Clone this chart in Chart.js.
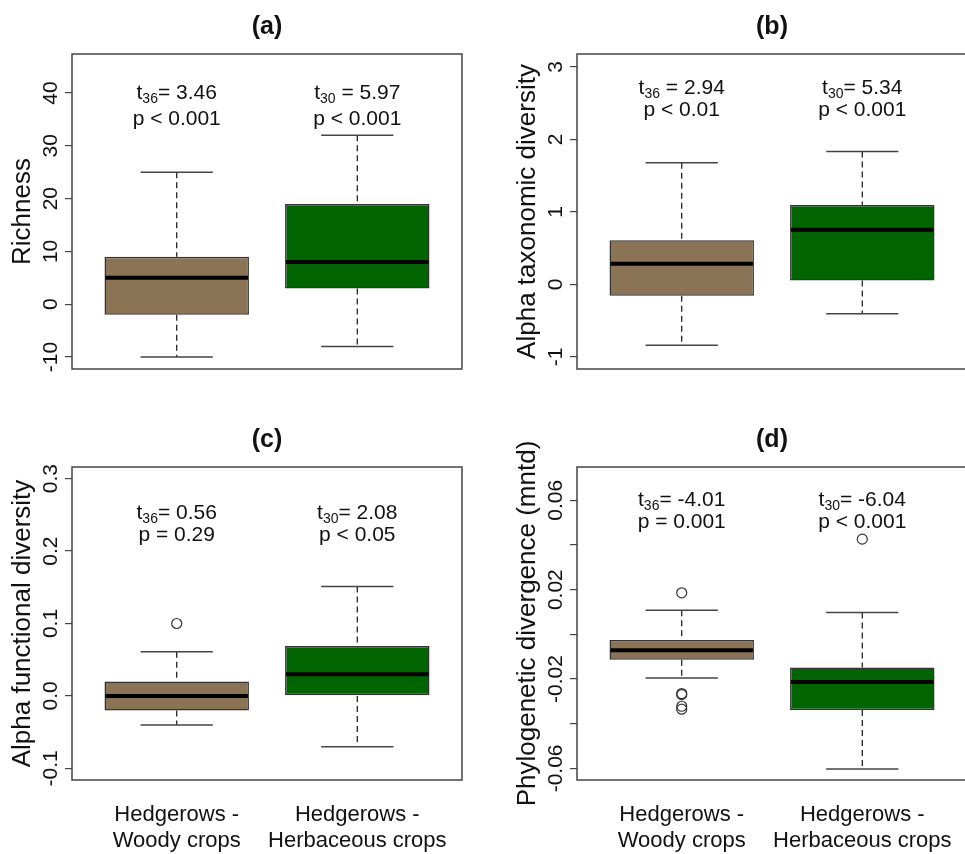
<!DOCTYPE html>
<html>
<head>
<meta charset="utf-8">
<script src="https://cdn.jsdelivr.net/npm/chart.js@4.4.0/dist/chart.umd.min.js"></script>
<style>
html, body { margin: 0; background: #fff; overflow: hidden; }
#wrap { position: relative; width: 965px; height: 854px; overflow: hidden; }
canvas { position: absolute; }
</style>
</head>
<body>
<div id="wrap">
<canvas id="pa" width="480" height="420" style="left:0;top:0"></canvas>
<canvas id="pb" width="490" height="420" style="left:480px;top:0"></canvas>
<canvas id="pc" width="480" height="434" style="left:0;top:420px"></canvas>
<canvas id="pd" width="490" height="434" style="left:480px;top:420px"></canvas>
</div>
<script>
const groups = [['Hedgerows -', 'Woody crops'], ['Hedgerows -', 'Herbaceous crops']];
const panelTitles = ['(a)', '(b)', '(c)', '(d)'];
const yTitles = ['Richness', 'Alpha taxonomic diversity', 'Alpha functional diversity', 'Phylogenetic divergence (mntd)'];

// one row per panel: [woody, herbaceous]
const lowerWhisker = [[-10, -8], [-0.84, -0.405], [-0.04, -0.07], [-0.0195, -0.0603]];
const lowerQuartile = [[-2, 3], [-0.156, 0.055], [-0.02, 0.0], [-0.0114, -0.0339]];
const medians = [[5, 8], [0.285, 0.755], [0.0, 0.03], [-0.0071, -0.0213]];
const upperQuartile = [[9, 19], [0.61, 1.095], [0.02, 0.069], [-0.0025, -0.0149]];
const upperWhisker = [[25, 32], [1.68, 1.835], [0.061, 0.151], [0.0108, 0.0098]];
const outliers = [
    [[], []],
    [[], []],
    [[0.1], []],
    [[0.0186, -0.0265, -0.027, -0.0322, -0.0335], [0.0426]]
];

const tDf = ['36', '30'];
const tValues = [['= 3.46', ' = 5.97'], [' = 2.94', '= 5.34'], ['= 0.56', '= 2.08'], ['= -4.01', '= -6.04']];
const pValues = [['p < 0.001', 'p < 0.001'], ['p < 0.01', 'p < 0.001'], ['p = 0.29', 'p < 0.05'], ['p = 0.001', 'p < 0.001']];

const yRange = [[-12.27, 47.4], [-1.166, 3.179], [-0.116, 0.316], [-0.0652, 0.0749]];
const yTicks = [
    [-10, 0, 10, 20, 30, 40],
    [-1, 0, 1, 2, 3],
    [-0.1, 0, 0.1, 0.2, 0.3],
    [-0.06, -0.04, -0.02, 0, 0.02, 0.04, 0.06]
];
const yTickLabels = [
    ['-10', '0', '10', '20', '30', '40'],
    ['-1', '0', '1', '2', '3'],
    ['-0.1', '0.0', '0.1', '0.2', '0.3'],
    ['-0.06', '', '-0.02', '', '0.02', '', '0.06']
];

const FONT = "'Liberation Sans', Arial, sans-serif";
const boxColors = ['#8B7355', '#006400'];
// text rows (t, p) as pixel offsets below the top of the plot box
const annotRows = [[39, 65], [34, 56], [46, 68], [33, 55]];

function extras(p, showX) {
    return {
        id: 'extras' + p,
        beforeDatasetsDraw(chart) {
            const ctx = chart.ctx, x = chart.scales.x, y = chart.scales.y;
            const bars = chart.getDatasetMeta(0).data;
            ctx.save();
            for (let i = 0; i < 2; i++) {
                const cx = x.getPixelForValue(i + 1);
                const half = bars[i].width / 4;
                ctx.strokeStyle = '#111';
                ctx.lineWidth = 1.2;
                ctx.setLineDash([6, 4]);
                ctx.beginPath();
                ctx.moveTo(cx, y.getPixelForValue(upperWhisker[p][i]));
                ctx.lineTo(cx, y.getPixelForValue(upperQuartile[p][i]));
                ctx.moveTo(cx, y.getPixelForValue(lowerQuartile[p][i]));
                ctx.lineTo(cx, y.getPixelForValue(lowerWhisker[p][i]));
                ctx.stroke();
                ctx.setLineDash([]);
                ctx.strokeStyle = '#444';
                ctx.lineWidth = 1.5;
                ctx.beginPath();
                [upperWhisker, lowerWhisker].forEach(arr => {
                    const yy = y.getPixelForValue(arr[p][i]);
                    ctx.moveTo(cx - half, yy);
                    ctx.lineTo(cx + half, yy);
                });
                ctx.stroke();
            }
            ctx.restore();
        },
        afterDatasetsDraw(chart) {
            const ctx = chart.ctx, x = chart.scales.x, y = chart.scales.y;
            const area = chart.chartArea;
            const bars = chart.getDatasetMeta(0).data;
            ctx.save();
            // medians
            ctx.strokeStyle = '#000';
            ctx.lineWidth = 4;
            for (let i = 0; i < 2; i++) {
                const yy = y.getPixelForValue(medians[p][i]);
                ctx.beginPath();
                ctx.moveTo(bars[i].x - bars[i].width / 2 + 1, yy);
                ctx.lineTo(bars[i].x + bars[i].width / 2 - 1, yy);
                ctx.stroke();
            }
            // plot frame
            ctx.strokeStyle = '#444';
            ctx.lineWidth = 1.5;
            ctx.strokeRect(area.left, area.top, area.right - area.left, area.bottom - area.top);

            ctx.fillStyle = '#111';
            // panel title
            ctx.font = 'bold 25px ' + FONT;
            ctx.textAlign = 'center';
            ctx.textBaseline = 'middle';
            ctx.fillText(panelTitles[p], (area.left + area.right) / 2, area.top - 27);

            // y tick labels, rotated like R
            ctx.font = '21px ' + FONT;
            yTicks[p].forEach((v, k) => {
                const lbl = yTickLabels[p][k];
                if (!lbl) return;
                ctx.save();
                ctx.translate(area.left - 21, y.getPixelForValue(v));
                ctx.rotate(-Math.PI / 2);
                ctx.fillText(lbl, 0, 0);
                ctx.restore();
            });

            // y title
            ctx.save();
            ctx.font = '26px ' + FONT;
            ctx.translate(area.left - 49, (area.top + area.bottom) / 2);
            ctx.rotate(-Math.PI / 2);
            ctx.fillText(yTitles[p], 0, 0);
            ctx.restore();

            // group labels under the bottom panels
            if (showX) {
                ctx.font = '22px ' + FONT;
                x.ticks.forEach(t => {
                    const lines = groups[t.value - 1];
                    lines.forEach((line, k) => {
                        ctx.fillText(line, x.getPixelForValue(t.value), area.bottom + 35 + k * 26);
                    });
                });
            }

            // t-test annotations
            for (let i = 0; i < 2; i++) {
                const cx = x.getPixelForValue(i + 1);
                const ty = area.top + annotRows[p][0];
                const py = area.top + annotRows[p][1];
                ctx.textAlign = 'left';
                ctx.font = '21px ' + FONT;
                const wT = ctx.measureText('t').width;
                const wR = ctx.measureText(tValues[p][i]).width;
                ctx.font = '14px ' + FONT;
                const wS = ctx.measureText(tDf[i]).width;
                let sx = cx - (wT + wS + wR) / 2;
                ctx.font = '21px ' + FONT;
                ctx.fillText('t', sx, ty);
                ctx.font = '14px ' + FONT;
                ctx.fillText(tDf[i], sx + wT, ty + 6);
                ctx.font = '21px ' + FONT;
                ctx.fillText(tValues[p][i], sx + wT + wS, ty);
                ctx.textAlign = 'center';
                ctx.fillText(pValues[p][i], cx, py);
            }
            ctx.restore();
        }
    };
}

function makePanel(p, id, area, showX) {
    const cv = document.getElementById(id);
    const W = cv.width, H = cv.height;
    const outlierPoints = [];
    outliers[p].forEach((vals, i) => vals.forEach(v => outlierPoints.push({ x: i + 1, y: v })));
    return new Chart(cv, {
        type: 'bar',
        data: {
            datasets: [{
                type: 'bar',
                data: [0, 1].map(i => ({ x: i + 1, y: [lowerQuartile[p][i], upperQuartile[p][i]] })),
                backgroundColor: boxColors,
                borderColor: '#333',
                borderWidth: 1.5,
                borderSkipped: false,
                categoryPercentage: 0.8,
                barPercentage: 1
            }, {
                type: 'scatter',
                data: outlierPoints,
                pointRadius: 5,
                pointBackgroundColor: 'rgba(0,0,0,0)',
                pointBorderColor: '#333',
                pointBorderWidth: 1.2
            }]
        },
        options: {
            responsive: false,
            animation: false,
            events: [],
            layout: { autoPadding: false, padding: { top: area.top, right: W - area.right, left: 0, bottom: 0 } },
            plugins: { legend: { display: false }, tooltip: { enabled: false } },
            scales: {
                x: {
                    type: 'linear',
                    min: 0.42,
                    max: 2.58,
                    offset: false,
                    grid: { display: false, offset: false },
                    border: { display: false },
                    afterBuildTicks: s => { s.ticks = [{ value: 1 }, { value: 2 }]; },
                    ticks: { display: false },
                    afterFit: s => { s.height = H - area.bottom; }
                },
                y: {
                    min: yRange[p][0],
                    max: yRange[p][1],
                    afterBuildTicks: s => { s.ticks = yTicks[p].map(v => ({ value: v })); },
                    grid: { drawOnChartArea: false, drawTicks: true, tickLength: 7, color: '#444', lineWidth: 1.2 },
                    border: { display: false },
                    ticks: { display: false },
                    afterFit: s => { s.width = area.left; }
                }
            }
        },
        plugins: [extras(p, showX)]
    });
}

makePanel(0, 'pa', { left: 72, right: 462, top: 54, bottom: 369 }, false);
makePanel(1, 'pb', { left: 97, right: 487, top: 54, bottom: 369 }, false);
makePanel(2, 'pc', { left: 72, right: 462, top: 47, bottom: 360 }, true);
makePanel(3, 'pd', { left: 97, right: 487, top: 47, bottom: 360 }, true);
</script>
</body>
</html>
